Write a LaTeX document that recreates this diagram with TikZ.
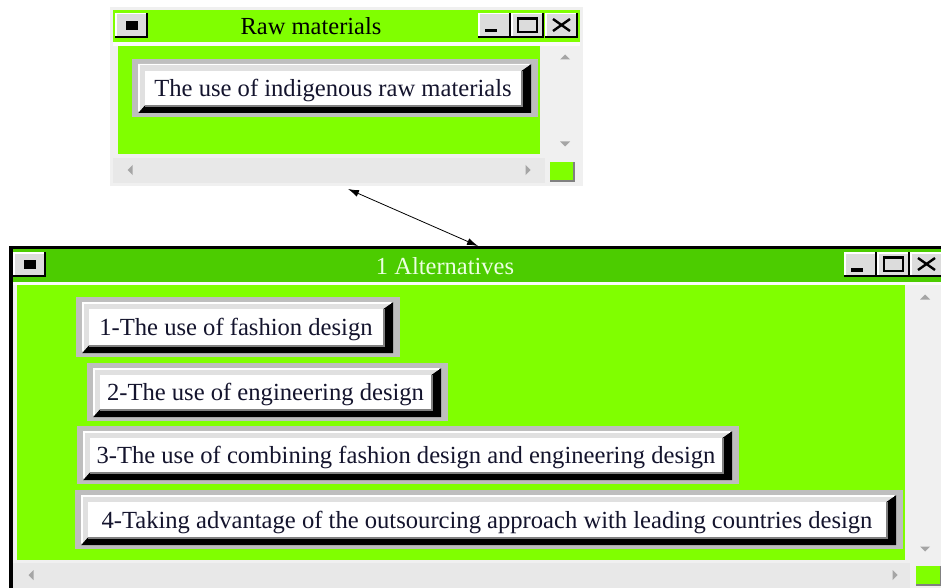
\documentclass[tikz,border=0pt]{standalone}
\usepackage{fontspec}
\setmainfont{Liberation Serif}
\usetikzlibrary{arrows.meta}
\definecolor{lime}{RGB}{128,255,0}
\definecolor{titlegreen}{RGB}{76,204,0}
\definecolor{framegray}{RGB}{190,190,190}
\definecolor{bevelgray}{RGB}{224,224,224}
\definecolor{shadowgray}{RGB}{128,128,128}
\definecolor{winbg}{RGB}{240,240,240}
\definecolor{scrollbg}{RGB}{232,232,232}
\definecolor{arrowgray}{RGB}{165,165,165}
\definecolor{titletext}{RGB}{235,255,225}
\definecolor{btnface}{RGB}{220,220,220}
\definecolor{inktext}{RGB}{20,20,45}
\tikzset{
  btntext/.style={inner sep=0pt, text height=16.3pt, text depth=0pt, font=\fontsize{24.6}{29}\selectfont, text=inktext},
  wintitle/.style={inner sep=0pt, text height=16.3pt, text depth=0pt, font=\fontsize{24.5}{29}\selectfont},
  link/.style={{Latex[length=11pt,width=7pt]}-{Latex[length=11pt,width=7pt]}, line width=0.8pt},
}
% 3D button inside grey frame: name, x1, y1, x2, y2, text
\newcommand\altbtn[6]{%
  \pgfmathsetmacro\bxa{#2+6}\pgfmathsetmacro\bya{#3+5}%
  \pgfmathsetmacro\bxb{#4-7}\pgfmathsetmacro\byb{#5-4}%
  \pgfmathsetmacro\fxa{\bxa+7}\pgfmathsetmacro\fya{\bya+7}%
  \pgfmathsetmacro\fxb{\bxb-10}\pgfmathsetmacro\fyb{\byb-8}%
  \fill[framegray] (#2,#3) rectangle (#4,#5);
  \fill[black] (\bxb,\bya) -- (\bxb,\byb) -- (\bxa,\byb) -- (\fxa,\fyb) -- (\fxb,\fyb) -- (\fxb,\fya) -- cycle;
  \fill[bevelgray] (\bxa,\byb) -- (\bxa,\bya) -- (\bxb,\bya) -- (\fxb,\fya) -- (\fxa,\fya) -- (\fxa,\fyb) -- cycle;
  \draw[white, line width=1.5pt] (\bxa+0.75,\byb-2) -- (\bxa+0.75,\bya+0.75) -- (\bxb-2,\bya+0.75);
  \draw[shadowgray, line width=2pt] (\fxa,\fyb+1) -- (\fxb+1,\fyb+1) -- (\fxb+1,\fya);
  \fill[white] (\fxa,\fya) rectangle (\fxb,\fyb);
  \node[btntext] (#1) at ({(\fxa+\fxb)/2},{(\fya+\fyb)/2+0.5}) {#6};
}
% title-bar button: x1, y1 (33 x 25)
\newcommand\tbtn[2]{%
  \fill[black] (#1,#2) rectangle ({#1+33},{#2+25});
  \fill[white] (#1,#2) rectangle ({#1+31},{#2+23});
  \fill[btnface] ({#1+1.5},{#2+1.5}) rectangle ({#1+31},{#2+23});
}
\newcommand\minbtn[2]{\tbtn{#1}{#2}\fill[black] ({#1+7},{#2+16}) rectangle ({#1+19},{#2+19.5});}
\newcommand\maxbtn[2]{\tbtn{#1}{#2}%
  \draw[black, line width=1.5pt] ({#1+7},{#2+5}) rectangle ({#1+26},{#2+19});
  \fill[black] ({#1+6.25},{#2+4.25}) rectangle ({#1+26.75},{#2+7});}
\newcommand\closebtn[2]{\tbtn{#1}{#2}%
  \draw[black, line width=2.4pt] ({#1+8},{#2+6}) -- ({#1+25},{#2+18}) ({#1+8},{#2+18}) -- ({#1+25},{#2+6});}
\newcommand\sysbtn[2]{\tbtn{#1}{#2}\fill[black] ({#1+11},{#2+8}) rectangle ({#1+23},{#2+17});}
\newcommand\upar[2]{\fill[arrowgray] ({#1-5},{#2+2.5}) -- ({#1+5},{#2+2.5}) -- (#1,{#2-2.5}) -- cycle;}
\newcommand\dnar[2]{\fill[arrowgray] ({#1-5},{#2-2.5}) -- ({#1+5},{#2-2.5}) -- (#1,{#2+2.5}) -- cycle;}
\newcommand\lfar[2]{\fill[arrowgray] ({#1+2.5},{#2-5}) -- ({#1+2.5},{#2+5}) -- ({#1-2.5},#2) -- cycle;}
\newcommand\rtar[2]{\fill[arrowgray] ({#1-2.5},{#2-5}) -- ({#1-2.5},{#2+5}) -- ({#1+2.5},#2) -- cycle;}
\newcommand\grip[4]{\fill[shadowgray] (#1,#2) rectangle (#3,#4);
  \fill[lime] (#1,#2) rectangle ({#3-2},{#4-2});}
\begin{document}
\begin{tikzpicture}[x=1pt,y=-1pt]
\useasboundingbox (0,0) rectangle (941,588);
\clip (0,0) rectangle (941,588);
\fill[white] (0,0) rectangle (941,588);

% ---------- top window ----------
\fill[winbg] (110,7) rectangle (583,186);
\fill[lime] (113,10) rectangle (580,42);
\fill[white!70!winbg] (113,42) rectangle (580,46);
\fill[lime] (118,46) rectangle (540,154);
\fill[winbg] (543,46) rectangle (580,156);
\fill[scrollbg] (113,158) rectangle (545,183);
\grip{550}{162}{575}{182}
\upar{565}{57}\dnar{565}{144}\lfar{130}{170}\rtar{528}{170}
\sysbtn{115}{13}
\minbtn{478}{13}\maxbtn{511}{13}\closebtn{545}{13}
\node[wintitle, text=black] (toptitle) at (311,26) {Raw materials};
\altbtn{raw}{132}{59}{538}{117}{The use of indigenous raw materials}

% ---------- bottom window ----------
\fill[black] (9,246) rectangle (945,592);
\fill[winbg] (13,248.5) rectangle (945,592);
\fill[titlegreen] (13,248.5) rectangle (945,282);
\fill[white!70!winbg] (13,282) rectangle (945,285);
\fill[lime] (17,285) rectangle (905,560);
\fill[winbg] (908,285) rectangle (945,562);
\fill[scrollbg] (13,563) rectangle (910,592);
\grip{916}{566}{942}{586}
\upar{925}{297}\dnar{925}{549}\lfar{31}{575}\rtar{895}{575}
\sysbtn{13}{252}
\minbtn{844}{252}\maxbtn{877}{252}\closebtn{910}{252}
\node[wintitle, text=titletext] (bottitle) at (445,266) {1 Alternatives};
\altbtn{alt1}{76}{297}{400}{357}{1-The use of fashion design}
\altbtn{alt2}{87}{363}{448}{421}{2-The use of engineering design}
\altbtn{alt3}{77}{426}{739}{484}{3-The use of combining fashion design and engineering design}
\altbtn{alt4}{75}{490}{903}{549}{4-Taking advantage of the outsourcing approach with leading countries design}

% ---------- connector ----------
\coordinate (linkA) at (348,189);
\coordinate (linkB) at (478,246);
\draw[link] (linkA) -- (linkB);
\end{tikzpicture}
\end{document}
